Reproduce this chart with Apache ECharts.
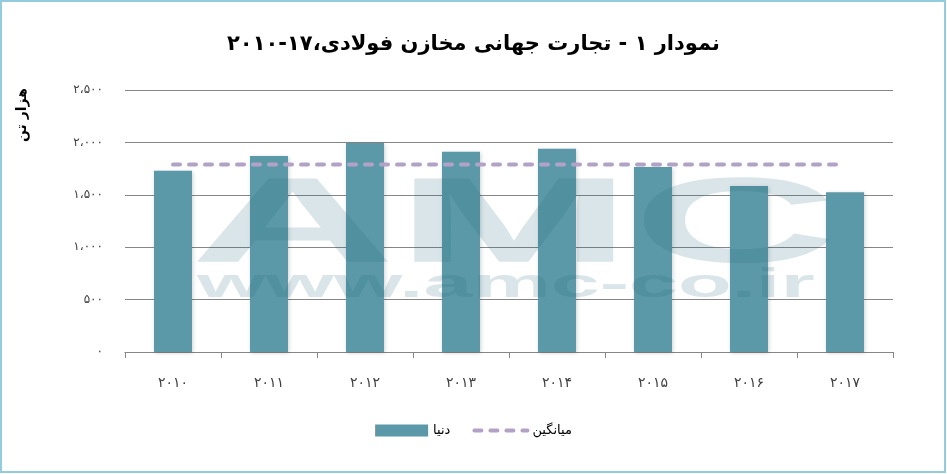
<!DOCTYPE html>
<html>
<head>
<meta charset="utf-8">
<script src="https://cdn.jsdelivr.net/npm/echarts@6/dist/echarts.min.js"></script>
<style>
html,body{margin:0;padding:0;background:#fff;}
#c{width:947px;height:474px;}
</style>
</head>
<body>
<div id="c"></div>
<script>
var titleText = 'نمودار ۱ - تجارت جهانی مخازن فولادی،۱۷-۲۰۱۰';
var yAxisName = 'هزار تن';
var categories = ['۲۰۱۰','۲۰۱۱','۲۰۱۲','۲۰۱۳','۲۰۱۴','۲۰۱۵','۲۰۱۶','۲۰۱۷'];
var worldValues = [1730, 1870, 1995, 1910, 1940, 1765, 1585, 1525];
var averageValues = [1790, 1790, 1790, 1790, 1790, 1790, 1790, 1790];
var yTickLabels = ['۰','۵۰۰','۱،۰۰۰','۱،۵۰۰','۲،۰۰۰','۲،۵۰۰'];
var seriesNames = ['دنیا', 'میانگین'];

var chart = echarts.init(document.getElementById('c'), null, {renderer:'canvas'});
var fontFam = 'DejaVu Sans';
chart.setOption({
  animation: false,
  backgroundColor: '#ffffff',
  title: {
    text: titleText,
    left: 'center',
    top: 29,
    textStyle: {fontFamily: fontFam, fontSize: 21, fontWeight: 'bold', color: '#000'}
  },
  grid: {left: 125, right: 54, top: 90, bottom: 122, containLabel: false},
  legend: {
    bottom: 32,
    left: 'center',
    itemWidth: 53,
    itemHeight: 12,
    itemGap: 22,
    textStyle: {fontFamily: fontFam, fontSize: 13, color: '#000'},
    data: [
      {name: seriesNames[0], icon: 'rect'},
      {name: seriesNames[1], itemStyle: {opacity: 0},
       lineStyle: {width: 4, type: [7, 9], cap: 'round', color: '#b3a2c7'}}
    ]
  },
  xAxis: {
    type: 'category',
    data: categories,
    boundaryGap: true,
    axisLine: {lineStyle: {color: '#868686', width: 1}},
    axisTick: {show: true, length: 6, lineStyle: {color: '#868686'}},
    axisLabel: {margin: 24, fontFamily: fontFam, fontSize: 14, color: '#404040'}
  },
  yAxis: {
    type: 'value',
    min: 0,
    max: 2500,
    interval: 500,
    axisLine: {show: false},
    axisTick: {show: false},
    splitLine: {lineStyle: {color: '#868686', width: 1}},
    axisLabel: {
      margin: 22,
      fontFamily: fontFam, fontSize: 12, color: '#404040',
      formatter: function (v) { return yTickLabels[Math.round(v / 500)]; }
    }
  },
  graphic: [
    {
      type: 'text', left: 15, top: 88, rotation: Math.PI / 2,
      style: {text: yAxisName, font: 'bold 14px "DejaVu Sans"', fill: '#000'}
    },
    {
      type: 'text', x: 190, y: 168, scaleX: 2.35, scaleY: 1, z: 100, silent: true,
      style: {text: 'AMC', font: 'bold 121px "Liberation Sans"', fill: 'rgba(30,100,118,0.17)', textVerticalAlign: 'top'}
    },
    {
      type: 'text', x: 197, y: 266, scaleX: 2.2, scaleY: 1, z: 100, silent: true,
      style: {text: 'www.amc-co.ir', font: 'bold 40px "Liberation Sans"', fill: 'rgba(30,100,118,0.17)', textVerticalAlign: 'top'}
    },
    {
      type: 'rect', z: 100, silent: true,
      shape: {x: 1, y: 1, width: 944, height: 471},
      style: {fill: 'none', stroke: '#93cddd', lineWidth: 2}
    }
  ],
  series: [
    {
      name: seriesNames[0],
      type: 'bar',
      data: worldValues,
      barWidth: 38,
      itemStyle: {
        color: '#5c99a8',
        shadowBlur: 4, shadowColor: 'rgba(0,0,0,0.18)', shadowOffsetX: 1, shadowOffsetY: 1
      }
    },
    {
      name: seriesNames[1],
      type: 'line',
      data: averageValues,
      symbol: 'none',
      lineStyle: {color: '#b3a2c7', width: 4, type: [7, 9], cap: 'round'},
      itemStyle: {color: '#b3a2c7'},
      z: 5
    }
  ]
});
</script>
</body>
</html>
